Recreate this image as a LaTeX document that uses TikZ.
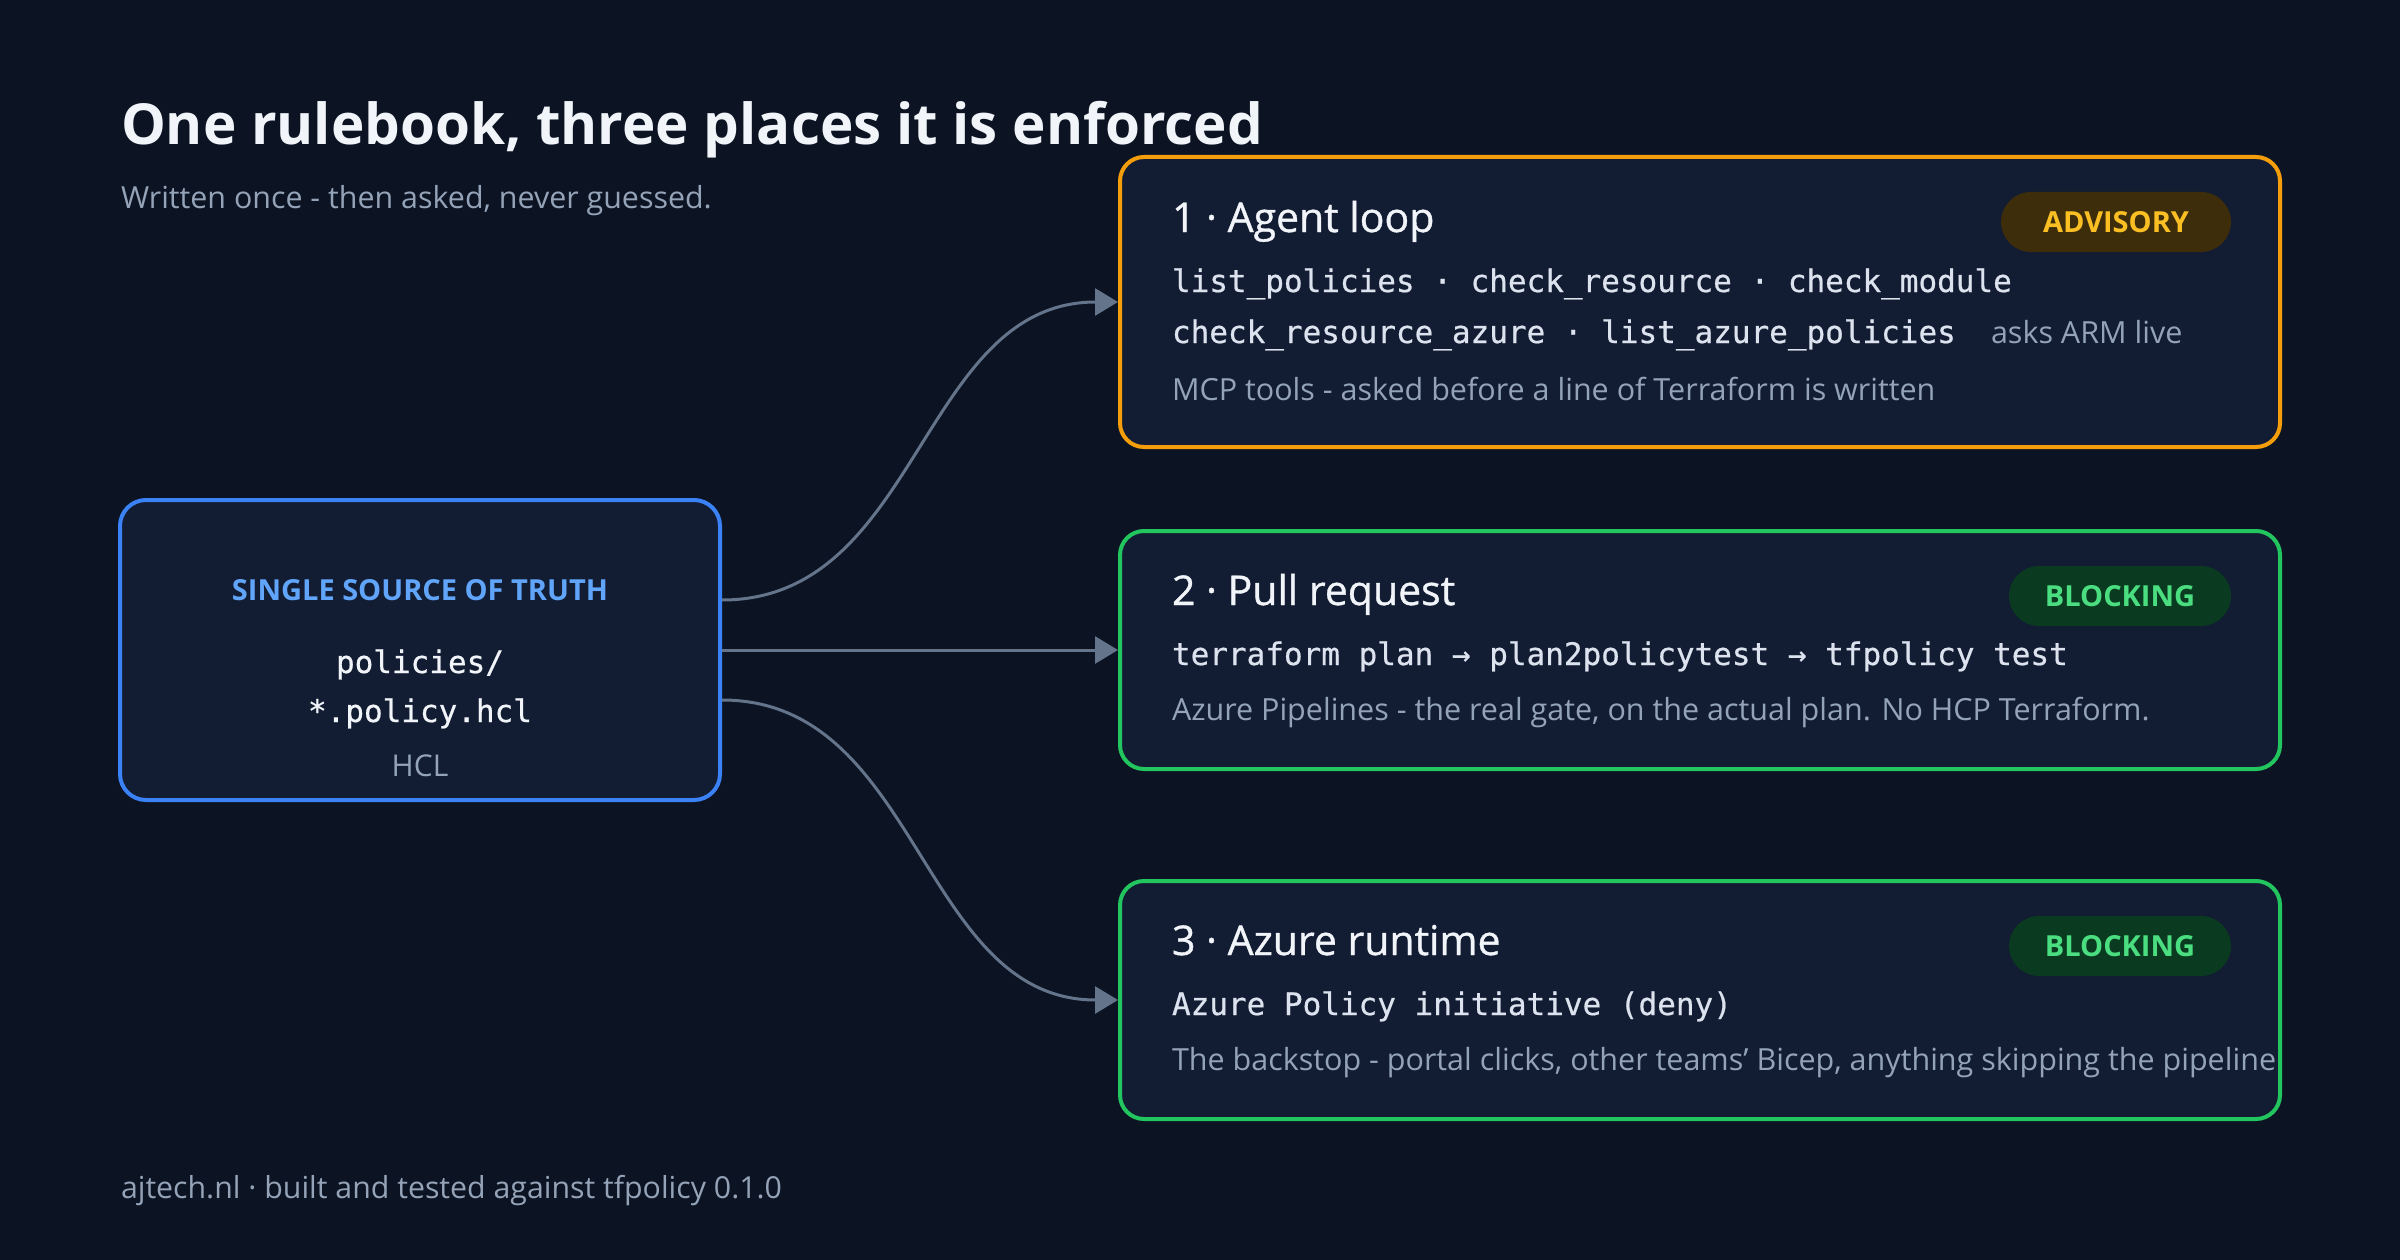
\documentclass[tikz,border=0pt]{standalone}
\usepackage{fontspec}
\setmainfont{Open Sans}
\setmonofont{DejaVu Sans Mono}[FakeBold=0.6]
\newfontfamily\semisans{Open Sans}[FakeBold=0.9]
\usetikzlibrary{arrows.meta}
\definecolor{bgc}{HTML}{0C1322}
\definecolor{boxc}{HTML}{121C33}
\definecolor{titlec}{HTML}{F1F5F9}
\definecolor{grayc}{HTML}{94A3B8}
\definecolor{monoc}{HTML}{DCE3EE}
\definecolor{connc}{HTML}{64748B}
\definecolor{orangec}{HTML}{F59E0B}
\definecolor{greenc}{HTML}{22C55E}
\definecolor{bluec}{HTML}{3B82F6}
\definecolor{bluelab}{HTML}{60A5FA}
\definecolor{advfill}{HTML}{3D2D0B}
\definecolor{advtext}{HTML}{FBBF24}
\definecolor{blkfill}{HTML}{0A3A1F}
\definecolor{blktext}{HTML}{4ADE80}
\newcommand\pxsize[1]{\fontsize{#1}{#1}\selectfont}
\tikzset{
  txt/.style={inner sep=0pt, outer sep=0pt, anchor=base west},
  ctxt/.style={inner sep=0pt, outer sep=0pt, anchor=base},
  cardbox/.style={draw, line width=4pt, fill=boxc, rounded corners=24pt, minimum width=1160pt},
  badge/.style={inner sep=0pt, rounded corners=30pt, minimum height=60pt, font=\pxsize{29}\bfseries},
  conn/.style={draw=connc, line width=3pt, -{Triangle[length=23pt,width=27pt]}},
  ttl/.style={txt, font=\semisans\pxsize{41}, text=titlec},
  mono/.style={txt, font=\pxsize{31}\ttfamily, text=monoc},
  gtxt/.style={txt, font=\pxsize{30.5}, text=grayc}
}
\begin{document}
\begin{tikzpicture}[x=1pt,y=-1pt]
\fill[bgc] (0,0) rectangle (2400,1260);
\useasboundingbox (0,0) rectangle (2400,1260);

\node[txt, font=\pxsize{56.5}\bfseries, text=titlec] (title) at (121,145) {One rulebook, three places it is enforced};
\node[txt, font=\pxsize{30.4}, text=grayc] (subtitle) at (121,208) {Written once - then asked, never guessed.};

% source box
\node[draw=bluec, line width=4pt, fill=boxc, rounded corners=26pt, minimum width=600pt, minimum height=300pt] (src) at (420,650) {};
\node[ctxt, font=\pxsize{29}\bfseries, text=bluelab] (srclab) at (420,600) {SINGLE SOURCE OF TRUTH};
\node[ctxt, font=\pxsize{31}\ttfamily, text=titlec] (srcl1) at (420,673) {policies/};
\node[ctxt, font=\pxsize{31}\ttfamily, text=titlec] (srcl2) at (420,722) {*.policy.hcl};
\node[ctxt, font=\pxsize{30}, text=grayc] (srcl3) at (420,776) {HCL};

% cards
\node[cardbox, draw=orangec, minimum height=290pt] (c1) at (1700,302) {};
\node[cardbox, draw=greenc, minimum height=238pt] (c2) at (1700,650) {};
\node[cardbox, draw=greenc, minimum height=238pt] (c3) at (1700,1000) {};

% badges
\node[badge, fill=advfill, text=advtext, minimum width=230pt] (b1) at (2116,222) {ADVISORY};
\node[badge, fill=blkfill, text=blktext, minimum width=222pt] (b2) at (2120,596) {BLOCKING};
\node[badge, fill=blkfill, text=blktext, minimum width=222pt] (b3) at (2120,946) {BLOCKING};

% card 1 text
\node[ttl] (t1) at (1172,232) {1 · Agent loop};
\node[mono] (m1a) at (1172,292) {list\_policies · check\_resource · check\_module};
\node[mono] (m1b) at (1172,343) {check\_resource\_azure · list\_azure\_policies};
\node[gtxt] (g1b) at (1991,343) {asks ARM live};
\node[gtxt] (g1) at (1172,400) {MCP tools - asked before a line of Terraform is written};

% card 2 text
\node[ttl] (t2) at (1172,605) {2 · Pull request};
\node[mono] (m2) at (1172,665) {terraform plan → plan2policytest → tfpolicy test};
\node[gtxt] (g2) at (1172,720) {Azure Pipelines - the real gate, on the actual plan. No HCP Terraform.};

% card 3 text
\node[ttl] (t3) at (1172,955) {3 · Azure runtime};
\node[mono] (m3) at (1172,1015) {Azure Policy initiative (deny)};
\node[gtxt] (g3) at (1172,1070) {The backstop - portal clicks, other teams' Bicep, anything skipping the pipeline};

% connectors
\draw[conn] ([yshift=50pt]src.east) .. controls +(198,0) and +(-198,0) .. (c1.west);
\draw[conn] (src.east) -- (c2.west);
\draw[conn] ([yshift=-50pt]src.east) .. controls +(198,0) and +(-198,0) .. (c3.west);

\node[txt, font=\pxsize{30.3}, text=grayc] (footer) at (121,1198) {ajtech.nl · built and tested against tfpolicy 0.1.0};
\end{tikzpicture}
\end{document}
